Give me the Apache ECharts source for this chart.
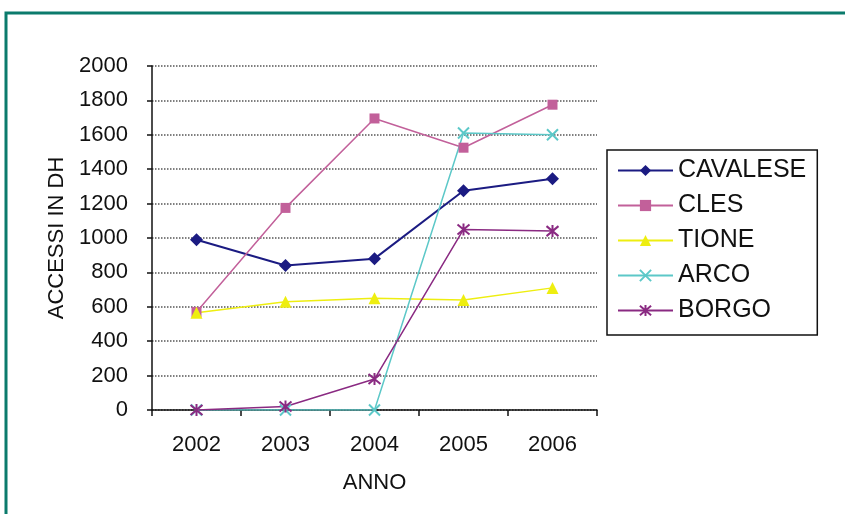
<!DOCTYPE html>
<html>
<head>
<meta charset="utf-8">
<script src="https://cdn.jsdelivr.net/npm/echarts@6/dist/echarts.min.js"></script>
<style>
  html, body { margin: 0; padding: 0; background: #fff; }
  #chart { width: 845px; height: 514px; }
</style>
</head>
<body>
<div id="chart"></div>
<script>
// Years on the horizontal axis
const years = ['2002', '2003', '2004', '2005', '2006'];

// Day-hospital admissions per hospital
const cavalese = [990, 840, 880, 1275, 1345];
const cles     = [570, 1175, 1695, 1525, 1775];
const tione    = [565, 630, 650, 640, 710];
const arco     = [0, 0, 0, 1610, 1600];
const borgo    = [0, 20, 180, 1050, 1040];

const FONT = '"Liberation Sans", Arial, sans-serif';

const crossPath = 'path://M0,0L10,10M10,0L0,10';
const starPath  = 'path://M0,0L10,10M10,0L0,10M5,-1L5,11';

function lineSeries(name, data, color, symbol, size, width, stroked) {
  return {
    name: name,
    type: 'line',
    data: data,
    symbol: symbol,
    symbolSize: size,
    showSymbol: true,
    lineStyle: { color: color, width: width },
    itemStyle: stroked
      ? { color: color, borderColor: color, borderWidth: 2 }
      : { color: color, borderWidth: 0 },
    emphasis: { disabled: true },
    animation: false
  };
}

const chart = echarts.init(document.getElementById('chart'), null, { renderer: 'canvas' });

chart.setOption({
  backgroundColor: '#ffffff',
  animation: false,
  textStyle: { fontFamily: FONT },
  graphic: [{
    type: 'polyline',
    shape: { points: [[6, 530], [6, 13], [860, 13]] },
    style: { stroke: '#0b7b6c', lineWidth: 3, fill: null },
    silent: true
  }],
  grid: { left: 152, right: 248, top: 66, bottom: 104 },
  legend: {
    orient: 'vertical',
    left: 607,
    top: 150,
    padding: [8, 11, 12, 10],
    itemWidth: 55,
    itemHeight: 14,
    itemGap: 10,
    itemTextGap: 7,
    borderColor: '#111',
    borderWidth: 1.5,
    textStyle: { fontFamily: FONT, fontSize: 25, color: '#111' },
    data: ['CAVALESE', 'CLES', 'TIONE', 'ARCO', 'BORGO']
  },
  xAxis: {
    type: 'category',
    data: years,
    boundaryGap: true,
    name: 'ANNO',
    nameLocation: 'middle',
    nameGap: 62,
    nameTextStyle: { fontFamily: FONT, fontSize: 22, color: '#111' },
    axisLine: { lineStyle: { color: '#111', width: 1.5 } },
    axisTick: { show: true, length: 6, lineStyle: { color: '#111', width: 1.5 } },
    axisLabel: { margin: 24, fontFamily: FONT, fontSize: 22, color: '#111' },
    splitLine: { show: false }
  },
  yAxis: {
    type: 'value',
    min: 0,
    max: 2000,
    interval: 200,
    name: 'ACCESSI IN DH',
    nameLocation: 'middle',
    nameRotate: 90,
    nameGap: 76,
    nameTextStyle: { fontFamily: FONT, fontSize: 22, color: '#111' },
    axisLine: { show: true, lineStyle: { color: '#111', width: 1.5 } },
    axisTick: { show: true, length: 5, lineStyle: { color: '#111', width: 1.5 } },
    axisLabel: {
      margin: 24, fontFamily: FONT, fontSize: 22, color: '#111',
      formatter: function (v) { return String(v); }
    },
    splitLine: { show: true, lineStyle: { color: '#555', width: 1.5, type: 'dotted' } }
  },
  series: [
    lineSeries('CAVALESE', cavalese, '#1b1b82', 'diamond', 13, 2, false),
    lineSeries('CLES', cles, '#c2609a', 'rect', 10, 1.5, false),
    lineSeries('TIONE', tione, '#eeee10', 'triangle', 12, 1.5, false),
    lineSeries('ARCO', arco, '#5cc8c8', crossPath, 11, 1.5, true),
    lineSeries('BORGO', borgo, '#8a2a82', starPath, 12, 1.5, true)
  ]
});
</script>
</body>
</html>
